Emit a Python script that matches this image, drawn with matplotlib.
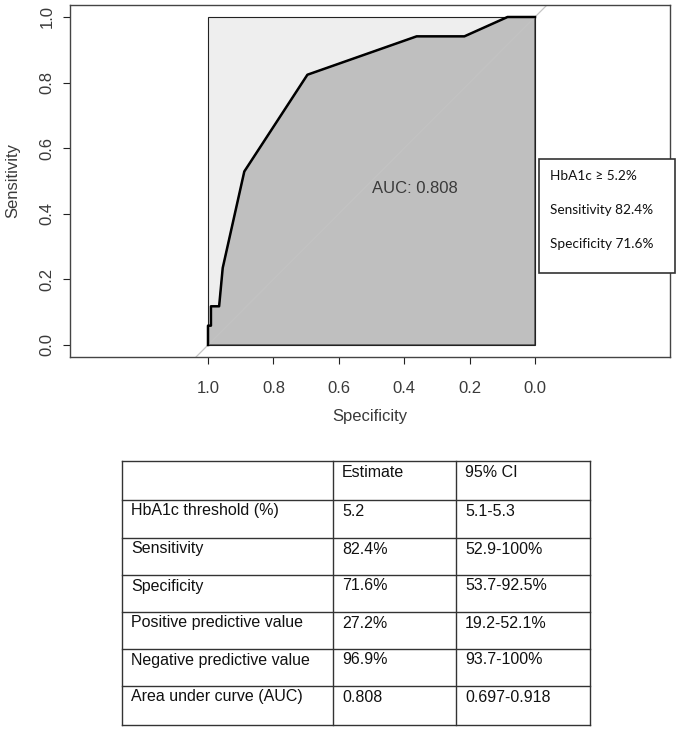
import matplotlib
matplotlib.use('Agg')
from matplotlib import pyplot as plt
from matplotlib.patches import Rectangle, Polygon

# ROC curve (specificity, sensitivity)
spec = [1.0, 1.0, 0.991, 0.991, 0.966, 0.955, 0.889, 0.696, 0.362, 0.216, 0.084, 0.0]
sens = [0.0, 0.059, 0.059, 0.118, 0.118, 0.235, 0.529, 0.824, 0.941, 0.941, 1.0, 1.0]
auc_text = 'AUC: 0.808'
box_lines = ['HbA1c \u2265 5.2%', 'Sensitivity 82.4%', 'Specificity 71.6%']
ticks = [1.0, 0.8, 0.6, 0.4, 0.2, 0.0]

col_labels = ['', 'Estimate', '95% CI']
row_names = ['HbA1c threshold (%)', 'Sensitivity', 'Specificity',
             'Positive predictive value', 'Negative predictive value',
             'Area under curve (AUC)']
estimates = ['5.2', '82.4%', '71.6%', '27.2%', '96.9%', '0.808']
cis = ['5.1-5.3', '52.9-100%', '53.7-92.5%', '19.2-52.1%', '93.7-100%',
       '0.697-0.918']

plt.rcParams['font.family'] = ['Liberation Sans', 'DejaVu Sans']
W, H = 680, 729
fig = plt.figure(figsize=(W / 100, H / 100), dpi=100)
txt = '#3a3a3a'

# ---- ROC plot (frame 70..670 x 5..357 px) ----
ax = fig.add_axes([70 / W, 1 - 357 / H, 600 / W, 352 / H])
# x: 1.0 at 208 px, 0.0 at 535 px ; y: 1.0 at 17 px, 0.0 at 345 px
ux = 327.0
uy = 328.0
ax.set_xlim(1 + (208 - 70) / ux, 0 - (670 - 535) / ux)
ax.set_ylim(0 - (357 - 345) / uy, 1 + (17 - 5) / uy)

ax.add_patch(Rectangle((0, 0), 1, 1, facecolor='#eeeeee',
                       edgecolor='#222222', lw=0.8, zorder=1))
poly = list(zip(spec, sens)) + [(0.0, 0.0)]
ax.add_patch(Polygon(poly, closed=True, facecolor='#bfbfbf',
                     edgecolor='#222222', lw=0.8, zorder=2))
# identity line: light grey outside, barely visible over the fill
ax.plot([1.2, -0.2], [-0.2, 1.2], color='#c6c6c6', lw=0.9, zorder=0.5)
ax.plot([1.0, 0.0], [0.0, 1.0], color='#c3c3c3', lw=0.9, zorder=3)
ax.plot(spec, sens, color='black', lw=1.8, zorder=4,
        solid_joinstyle='round')

ax.text(0.5, 0.5, auc_text, ha='left', va='top', fontsize=12,
        color=txt, zorder=5)

ax.set_xticks(ticks)
ax.set_yticks(ticks)
ax.set_xticklabels(['%.1f' % t for t in ticks], fontsize=12, color=txt)
ax.set_yticklabels(['%.1f' % t for t in ticks], fontsize=12, color=txt,
                   rotation=90, va='center')
ax.tick_params(axis='x', length=5, pad=12, color='#222222')
ax.tick_params(axis='y', length=5, pad=6, color='#222222')
for s in ['top', 'right', 'left', 'bottom']:
    ax.spines[s].set_color('#444444')
    ax.spines[s].set_linewidth(1.0)
ax.set_xlabel('Specificity', fontsize=12, color=txt, labelpad=10)
ax.set_ylabel('Sensitivity', fontsize=12, color=txt, labelpad=14)

# ---- threshold box on the right ----
fig.patches.append(Rectangle((539 / W, 1 - 273 / H), 136 / W, 114 / H,
                             transform=fig.transFigure, facecolor='white',
                             edgecolor='#333333', lw=1.2, zorder=10))
for i, line in enumerate(box_lines):
    fig.text(550 / W, 1 - (176 + 34 * i) / H, line, fontsize=9.8,
             family=['Lato', 'DejaVu Sans'], color='#111111',
             va='center', ha='left', zorder=11)

# ---- table below ----
col_x = [122, 333, 456, 590]
row_y = [461, 500, 538, 575, 612, 649, 686, 725]
rows = [col_labels] + [[n, e, c] for n, e, c in zip(row_names, estimates, cis)]
tab = fig.add_axes([0, 0, 1, 1])
tab.set_xlim(0, W)
tab.set_ylim(H, 0)
tab.axis('off')
for x in col_x:
    tab.plot([x, x], [row_y[0], row_y[-1]], color='#333333', lw=1.0)
for y in row_y:
    tab.plot([col_x[0], col_x[-1]], [y, y], color='#333333', lw=1.0)
for r, row in enumerate(rows):
    for c, val in enumerate(row):
        tab.text(col_x[c] + 9, row_y[r] + 11, val, fontsize=11.5,
                 color='#111111', ha='left', va='center')

fig.savefig('out.png', dpi=100)
